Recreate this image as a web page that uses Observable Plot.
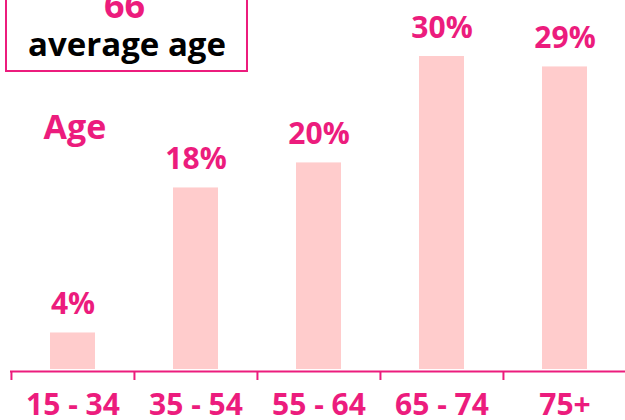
<!DOCTYPE html>
<html><head><meta charset="utf-8">
<script src="https://cdn.jsdelivr.net/npm/d3@7"></script>
<script src="https://cdn.jsdelivr.net/npm/@observablehq/plot@0.6"></script>
<style>
html,body{margin:0;padding:0;background:#fff;}
#wrap{position:relative;width:625px;height:420px;overflow:hidden;font-family:"Open Sans",sans-serif;}
#box{position:absolute;left:5px;top:-40px;width:239px;height:108px;border:2px solid #ec1c7d;}
#chart{position:absolute;left:0;top:0;}
</style></head><body>
<div id="wrap"><div id="box"></div><div id="chart"></div></div>
<script>
const ageGroups = ["15 - 34", "35 - 54", "55 - 64", "65 - 74", "75+"];
const shares = [3.5, 17.4, 19.8, 30, 29];
const shareLabels = ["4%", "18%", "20%", "30%", "29%"];
const averageAge = "66";
const averageLabel = "average age";
const sectionTitle = "Age";

const pink = "#ec1c7d";
const xRange = [10.4, 625.9];
const step = (xRange[1] - xRange[0]) / ageGroups.length;
const data = ageGroups.map((g, i) => ({group: g, share: shares[i], label: shareLabels[i]}));

const chart = Plot.plot({
  width: 625, height: 420,
  marginTop: 0, marginLeft: 10, marginRight: 0, marginBottom: 49,
  style: {fontFamily: '"Open Sans", sans-serif', background: "transparent", overflow: "visible"},
  x: {type: "band", domain: ageGroups, range: xRange, paddingInner: 0.634, paddingOuter: 0.317, label: null},
  y: {domain: [0, 30], range: [369, 56], axis: null},
  marks: [
    Plot.barY(data, {x: "group", y: "share", fill: "#ffcccc"}),
    Plot.text(data, {x: "group", y: "share", text: "label", dy: -19, lineAnchor: "bottom", fill: pink, fontSize: 30, fontWeight: 700}),
    Plot.ruleY([0], {dy: 2, stroke: pink, strokeWidth: 2}),
    Plot.axisX({tickSize: 9, tickFormat: () => "", dx: -step / 2, stroke: pink, strokeWidth: 2, label: null}),
    Plot.axisX({tickSize: 0, tickPadding: 22, fill: pink, fontSize: 30, fontWeight: 700, label: null}),
    Plot.text([sectionTitle], {frameAnchor: "top-left", dx: 33, dy: 138, lineAnchor: "bottom", textAnchor: "start", fill: pink, fontSize: 34, fontWeight: 700}),
    Plot.text([averageAge], {frameAnchor: "top-left", dx: 114, dy: 17, lineAnchor: "bottom", textAnchor: "middle", fill: pink, fontSize: 36, fontWeight: 700}),
    Plot.text([averageLabel], {frameAnchor: "top-left", dx: 116.5, dy: 55, lineAnchor: "bottom", textAnchor: "middle", fill: "#000", fontSize: 33, fontWeight: 700})
  ]
});
document.getElementById("chart").appendChild(chart);
</script>
</body></html>
